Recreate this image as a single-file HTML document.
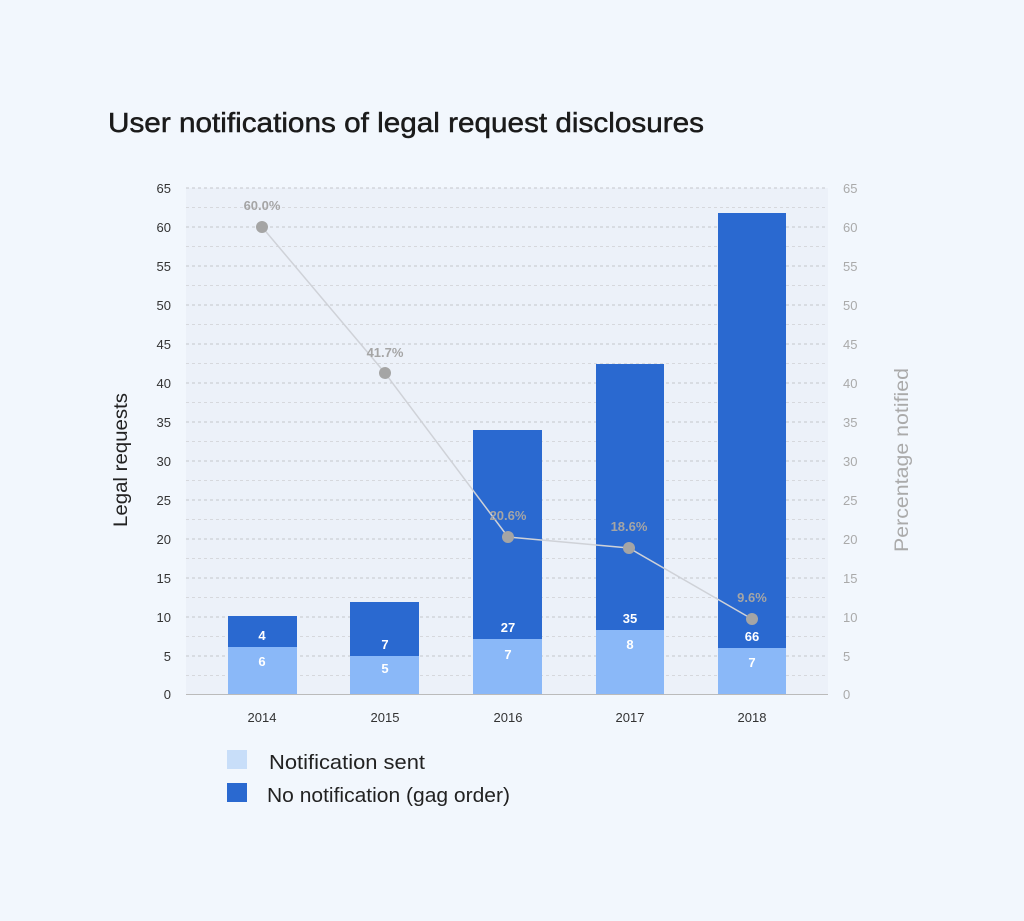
<!DOCTYPE html><html><head><style>body{margin:0;background:#f2f7fd}svg{display:block;font-family:"Liberation Sans",sans-serif}</style></head><body>
<svg width="1024" height="921" viewBox="0 0 1024 921">
<rect width="1024" height="921" fill="#f2f7fd"/>
<text x="108" y="132" font-size="28" fill="#1b1b1b" textLength="596" lengthAdjust="spacingAndGlyphs" stroke="#1b1b1b" stroke-width="0.5">User notifications of legal request disclosures</text>
<rect x="186" y="188" width="642" height="506" fill="#ecf1f9"/>
<g stroke="#c4c6cc" stroke-width="1" stroke-dasharray="3,3">
<line x1="186" x2="828" y1="188" y2="188"/><line x1="186" x2="828" y1="207.5" y2="207.5" stroke="#d6d8dd"/>
<line x1="186" x2="828" y1="227" y2="227"/><line x1="186" x2="828" y1="246.5" y2="246.5" stroke="#d6d8dd"/>
<line x1="186" x2="828" y1="266" y2="266"/><line x1="186" x2="828" y1="285.5" y2="285.5" stroke="#d6d8dd"/>
<line x1="186" x2="828" y1="305" y2="305"/><line x1="186" x2="828" y1="324.5" y2="324.5" stroke="#d6d8dd"/>
<line x1="186" x2="828" y1="344" y2="344"/><line x1="186" x2="828" y1="363.5" y2="363.5" stroke="#d6d8dd"/>
<line x1="186" x2="828" y1="383" y2="383"/><line x1="186" x2="828" y1="402.5" y2="402.5" stroke="#d6d8dd"/>
<line x1="186" x2="828" y1="422" y2="422"/><line x1="186" x2="828" y1="441.5" y2="441.5" stroke="#d6d8dd"/>
<line x1="186" x2="828" y1="461" y2="461"/><line x1="186" x2="828" y1="480.5" y2="480.5" stroke="#d6d8dd"/>
<line x1="186" x2="828" y1="500" y2="500"/><line x1="186" x2="828" y1="519.5" y2="519.5" stroke="#d6d8dd"/>
<line x1="186" x2="828" y1="539" y2="539"/><line x1="186" x2="828" y1="558.5" y2="558.5" stroke="#d6d8dd"/>
<line x1="186" x2="828" y1="578" y2="578"/><line x1="186" x2="828" y1="597.5" y2="597.5" stroke="#d6d8dd"/>
<line x1="186" x2="828" y1="617" y2="617"/><line x1="186" x2="828" y1="636.5" y2="636.5" stroke="#d6d8dd"/>
<line x1="186" x2="828" y1="656" y2="656"/><line x1="186" x2="828" y1="675.5" y2="675.5" stroke="#d6d8dd"/>
</g>
<g font-size="13" fill="#333" text-anchor="end">
<text x="171" y="193">65</text><text x="171" y="232">60</text><text x="171" y="271">55</text><text x="171" y="310">50</text><text x="171" y="349">45</text><text x="171" y="388">40</text><text x="171" y="427">35</text><text x="171" y="466">30</text><text x="171" y="505">25</text><text x="171" y="544">20</text><text x="171" y="583">15</text><text x="171" y="622">10</text><text x="171" y="661">5</text><text x="171" y="699">0</text>
</g>
<g font-size="13" fill="#aaa">
<text x="843" y="193">65</text><text x="843" y="232">60</text><text x="843" y="271">55</text><text x="843" y="310">50</text><text x="843" y="349">45</text><text x="843" y="388">40</text><text x="843" y="427">35</text><text x="843" y="466">30</text><text x="843" y="505">25</text><text x="843" y="544">20</text><text x="843" y="583">15</text><text x="843" y="622">10</text><text x="843" y="661">5</text><text x="843" y="699">0</text>
</g>
<text transform="translate(127,460) rotate(-90)" font-size="19" fill="#222" text-anchor="middle" textLength="134" lengthAdjust="spacingAndGlyphs">Legal requests</text>
<text transform="translate(908,460) rotate(-90)" font-size="19" fill="#aaa" text-anchor="middle" textLength="184" lengthAdjust="spacingAndGlyphs">Percentage notified</text>
<g fill="#8ab8f8"><rect x="228" y="647" width="69" height="47"/><rect x="350" y="656" width="69" height="38"/><rect x="473" y="639" width="69" height="55"/><rect x="596" y="630" width="68" height="64"/><rect x="718" y="648" width="68" height="46"/></g>
<g fill="#2a69d0"><rect x="228" y="616" width="69" height="31"/><rect x="350" y="602" width="69" height="54"/><rect x="473" y="430" width="69" height="209"/><rect x="596" y="364" width="68" height="266"/><rect x="718" y="213" width="68" height="435"/></g>
<line x1="186" x2="828" y1="694.5" y2="694.5" stroke="#bbb"/>
<g font-size="13" font-weight="bold" fill="#fff" text-anchor="middle">
<text x="262" y="640">4</text><text x="262" y="666">6</text>
<text x="385" y="649">7</text><text x="385" y="673">5</text>
<text x="508" y="632">27</text><text x="508" y="659">7</text>
<text x="630" y="623">35</text><text x="630" y="649">8</text>
<text x="752" y="641">66</text><text x="752" y="667">7</text>
</g>
<polyline points="262,227 385,373 508,537 629,548 752,619" fill="none" stroke="#cfd2d8" stroke-width="1.5"/>
<g fill="#a5a5a5"><circle cx="262" cy="227" r="6"/><circle cx="385" cy="373" r="6"/><circle cx="508" cy="537" r="6"/><circle cx="629" cy="548" r="6"/><circle cx="752" cy="619" r="6"/></g>
<g font-size="13" font-weight="bold" fill="#a5a5a5" text-anchor="middle">
<text x="262" y="210">60.0%</text><text x="385" y="357">41.7%</text><text x="508" y="520">20.6%</text><text x="629" y="531">18.6%</text><text x="752" y="602">9.6%</text>
</g>
<g font-size="13" fill="#333" text-anchor="middle"><text x="262" y="722">2014</text><text x="385" y="722">2015</text><text x="508" y="722">2016</text><text x="630" y="722">2017</text><text x="752" y="722">2018</text></g>
<rect x="227" y="750" width="20" height="19" fill="#c8def9"/>
<rect x="227" y="783" width="20" height="19" fill="#2a69d0"/>
<text x="269" y="769" font-size="20" fill="#222" textLength="156" lengthAdjust="spacingAndGlyphs">Notification sent</text>
<text x="267" y="802" font-size="20" fill="#222" textLength="243" lengthAdjust="spacingAndGlyphs">No notification (gag order)</text>
</svg></body></html>
